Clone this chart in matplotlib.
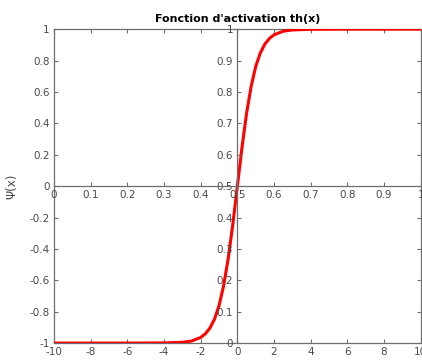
import matplotlib.pyplot as plt
import numpy as np

x_vals = [-10, -6, -4, -3, -2.5, -2, -1.75, -1.5, -1.25, -1, -0.75, -0.5, -0.25, 0,
          0.25, 0.5, 0.75, 1, 1.25, 1.5, 1.75, 2, 2.5, 3, 4, 6, 10]
y_vals = [-1, -1, -0.999, -0.995, -0.987, -0.964, -0.941, -0.905, -0.848, -0.762, -0.635, -0.462, -0.245, 0,
          0.245, 0.462, 0.635, 0.762, 0.848, 0.905, 0.941, 0.964, 0.987, 0.995, 0.999, 1, 1]

main_xticks = [-10, -8, -6, -4, -2, 0, 2, 4, 6, 8, 10]
main_yticks = [-1, -0.8, -0.6, -0.4, -0.2, 0, 0.2, 0.4, 0.6, 0.8, 1]
sec_xticks = [0, 0.1, 0.2, 0.3, 0.4, 0.5, 0.6, 0.7, 0.8, 0.9, 1]
sec_yticks = [0, 0.1, 0.2, 0.3, 0.4, 0.5, 0.6, 0.7, 0.8, 0.9, 1]

GREY = '#4a4a4a'
AXC = '#6e6e6e'

fig = plt.figure(figsize=(4.22, 3.6), dpi=100)
rect = [0.128, 0.047, 0.869, 0.872]

# main axes
ax = fig.add_axes(rect)
ax.plot(x_vals, y_vals, color='red', linewidth=2.2, zorder=5)
ax.set_xlim(-10, 10)
ax.set_ylim(-1, 1)
ax.set_xticks(main_xticks)
ax.set_yticks(main_yticks)
ax.set_xticklabels([f'{t:g}' for t in main_xticks])
ax.set_yticklabels([f'{t:g}' for t in main_yticks])
ax.tick_params(direction='in', top=True, right=True, length=3, width=0.8,
               labelsize=7.5, colors=AXC, labelcolor=GREY, pad=3)
for s in ax.spines.values():
    s.set_color(AXC)
    s.set_linewidth(0.9)
ax.set_title("Fonction d'activation th(x)", fontsize=8, fontweight='bold', pad=5)
ax.set_ylabel('Ψ(x)', fontsize=8.5, color=GREY, labelpad=8)

# overlaid axes crossing at the centre
ax2 = fig.add_axes(rect, facecolor='none')
ax2.set_xlim(0, 1)
ax2.set_ylim(0, 1)
ax2.spines['left'].set_position(('data', 0.5))
ax2.spines['bottom'].set_position(('data', 0.5))
ax2.spines['top'].set_visible(False)
ax2.spines['right'].set_visible(False)
for s in ('left', 'bottom'):
    ax2.spines[s].set_color(AXC)
    ax2.spines[s].set_linewidth(0.9)
ax2.set_xticks(sec_xticks)
ax2.set_yticks(sec_yticks)
ax2.set_xticklabels([f'{t:g}' for t in sec_xticks])
ax2.set_yticklabels([f'{t:g}' for t in sec_yticks])
ax2.tick_params(direction='in', length=3, width=0.8, labelsize=7.5,
                colors=AXC, labelcolor=GREY, pad=3)

fig.savefig('out.png', dpi=100)
